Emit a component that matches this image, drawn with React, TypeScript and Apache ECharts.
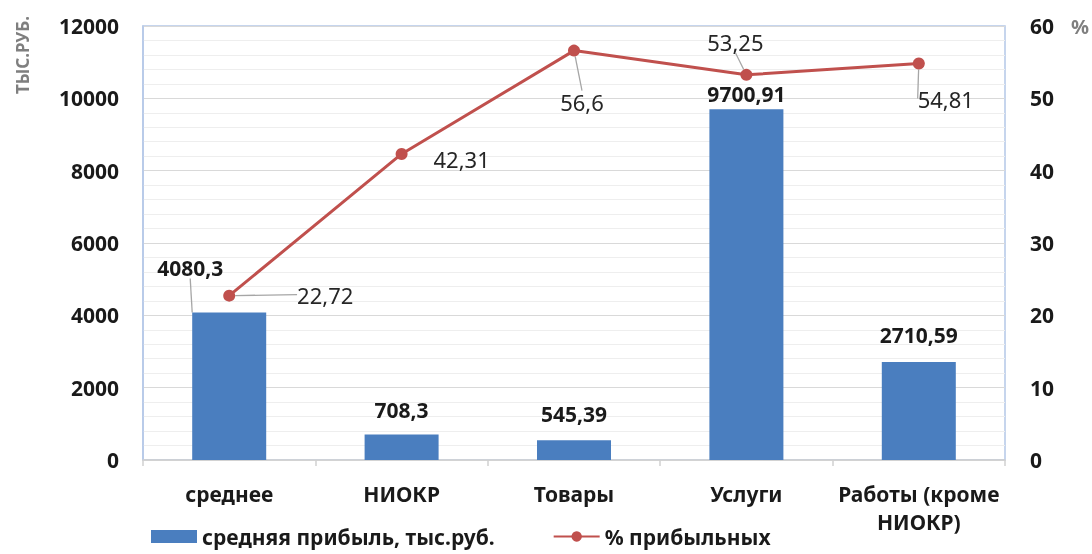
import React, { useEffect, useRef } from "react";
import * as echarts from "echarts";

const categories = ["среднее", "НИОКР", "Товары", "Услуги", "Работы (кроме\nНИОКР)"];
const profitValues = [4080.3, 708.3, 545.39, 9700.91, 2710.59];
const percentValues = [22.72, 42.31, 56.6, 53.25, 54.81];
const leftTicks = { min: 0, max: 12000, interval: 2000 };
const rightTicks = { min: 0, max: 60, interval: 10 };

// label placement offsets (style only)
const barLabelOffsets = [
  [-39, -28],
  [0, -8],
  [0, -10],
  [0, 1],
  [0, -10],
];
const barLabelLines = [true, false, false, false, false];
const lineLabelOffsets = [
  [96, 21],
  [60, 27],
  [8, 73],
  [-11, -11],
  [27, 57],
];
const lineLabelLines = [true, false, true, true, true];

const FONT = "'Noto Sans', 'Open Sans', sans-serif";
const fmt = (v: number) => String(v).replace(".", ",");

export default function App() {
  const ref = useRef<HTMLDivElement>(null);
  useEffect(() => {
    if (!ref.current) return;
    const chart = echarts.init(ref.current, undefined, { renderer: "svg" });
    chart.setOption({
      animation: false,
      textStyle: { fontFamily: FONT },
      grid: {
        left: 143,
        right: 87,
        top: 26,
        bottom: 94,
        show: true,
        borderColor: "#b4c7e7",
        borderWidth: 1.5,
      },
      legend: {
        bottom: 2,
        left: 146,
        itemGap: 58,
        itemWidth: 46,
        itemHeight: 13,
        textStyle: { fontFamily: FONT, fontWeight: "bold", fontSize: 21, color: "#1a1a1a" },
        data: [
          { name: "средняя прибыль, тыс.руб.", icon: "rect" },
          { name: "% прибыльных" },
        ],
      },
      graphic: [
        {
          type: "text",
          x: 22,
          y: 55,
          rotation: Math.PI / 2,
          style: {
            text: "ТЫС.РУБ.",
            fill: "#7f7f7f",
            font: `bold 17px ${FONT}`,
            align: "center",
            verticalAlign: "middle",
          },
        },
        {
          type: "text",
          x: 1080,
          y: 26,
          style: {
            text: "%",
            fill: "#7f7f7f",
            font: `bold 20px ${FONT}`,
            align: "center",
            verticalAlign: "middle",
          },
        },
      ],
      xAxis: {
        type: "category",
        data: categories,
        axisLine: { lineStyle: { color: "#d0d0d0", width: 1.5 } },
        axisTick: { show: true, length: 6, lineStyle: { color: "#d0d0d0", width: 1.5 } },
        axisLabel: {
          interval: 0,
          margin: 20,
          fontFamily: FONT,
          fontWeight: "bold",
          fontSize: 21,
          lineHeight: 28,
          color: "#1a1a1a",
        },
      },
      yAxis: [
        {
          type: "value",
          min: leftTicks.min,
          max: leftTicks.max,
          interval: leftTicks.interval,
          axisLine: { show: true, lineStyle: { color: "#b4c7e7", width: 1.5 } },
          axisTick: { show: false },
          axisLabel: {
            margin: 24,
            fontFamily: FONT,
            fontWeight: "bold",
            fontSize: 21,
            color: "#1a1a1a",
            formatter: (v: number) => String(v),
          },
          splitLine: { lineStyle: { color: "#d9d9d9", width: 1.2 } },
          minorTick: { show: false, splitNumber: 5 },
          minorSplitLine: { show: true, lineStyle: { color: "#eeeeee", width: 1 } },
        },
        {
          type: "value",
          min: rightTicks.min,
          max: rightTicks.max,
          interval: rightTicks.interval,
          position: "right",
          axisLine: { show: false },
          axisTick: { show: false },
          splitLine: { show: false },
          axisLabel: {
            margin: 25,
            fontFamily: FONT,
            fontWeight: "bold",
            fontSize: 21,
            color: "#1a1a1a",
            formatter: (v: number) => String(v),
          },
        },
      ],
      series: [
        {
          name: "средняя прибыль, тыс.руб.",
          type: "bar",
          yAxisIndex: 0,
          barWidth: 74,
          itemStyle: { color: "#4a7ebf" },
          label: {
            show: true,
            position: "top",
            distance: 6,
            fontFamily: FONT,
            fontWeight: "bold",
            fontSize: 21,
            color: "#1a1a1a",
            formatter: (p: any) => fmt(p.value),
          },
          labelLine: { show: false, lineStyle: { color: "#a6a6a6", width: 1.3 } },
          labelLayout: (p: any) => ({
            dx: barLabelOffsets[p.dataIndex][0],
            dy: barLabelOffsets[p.dataIndex][1],
          }),
          data: profitValues.map((v, i) => ({
            value: v,
            labelLine: { show: barLabelLines[i] },
          })),
        },
        {
          name: "% прибыльных",
          type: "line",
          yAxisIndex: 1,
          symbol: "circle",
          symbolSize: 12,
          lineStyle: { color: "#c0504d", width: 3 },
          itemStyle: { color: "#c0504d" },
          label: {
            show: true,
            position: "top",
            distance: 5,
            fontFamily: FONT,
            fontSize: 22,
            color: "#262626",
            formatter: (p: any) => fmt(p.value),
          },
          labelLine: { show: false, lineStyle: { color: "#a6a6a6", width: 1.3 } },
          labelLayout: (p: any) => ({
            dx: lineLabelOffsets[p.dataIndex][0],
            dy: lineLabelOffsets[p.dataIndex][1],
          }),
          data: percentValues.map((v, i) => ({
            value: v,
            labelLine: { show: lineLabelLines[i] },
          })),
        },
      ],
    });
    return () => chart.dispose();
  }, []);
  return (
    <div
      ref={ref}
      style={{ position: "fixed", left: 0, top: 0, width: 1092, height: 554 }}
    />
  );
}
